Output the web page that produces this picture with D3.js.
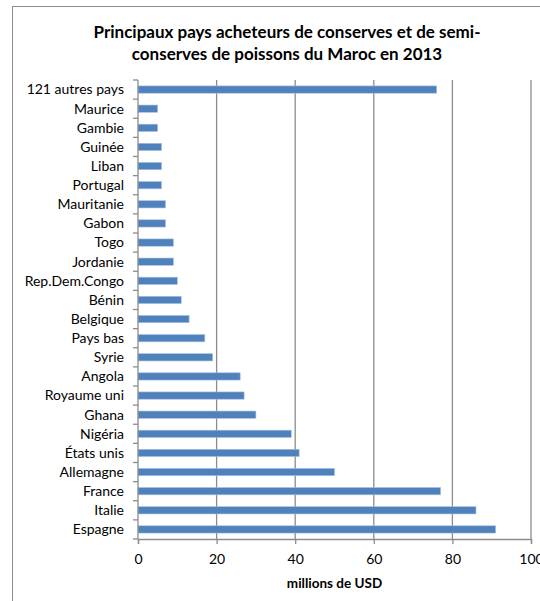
<!DOCTYPE html>
<html>
<head>
<meta charset="utf-8">
<script src="https://cdn.jsdelivr.net/npm/d3@7"></script>
<style>
  body { margin: 0; background: #fff; }
  text { font-family: Lato, "Open Sans", sans-serif; fill: #000; }
</style>
</head>
<body>
<div id="chart"></div>
<script>
// data, top to bottom as drawn
const pays = ["121 autres pays", "Maurice", "Gambie", "Guinée", "Liban", "Portugal",
    "Mauritanie", "Gabon", "Togo", "Jordanie", "Rep.Dem.Congo", "Bénin", "Belgique",
    "Pays bas", "Syrie", "Angola", "Royaume uni", "Ghana", "Nigéria", "États unis",
    "Allemagne", "France", "Italie", "Espagne"];
const valeurs = [76, 5, 5, 6, 6, 6, 7, 7, 9, 9, 10, 11, 13, 17, 19, 26, 27, 30, 39, 41, 50, 77, 86, 91];
const xTicks = [0, 20, 40, 60, 80, 100];
const titre = ["Principaux pays acheteurs de conserves et de semi-",
    "conserves de poissons du Maroc en 2013"];
const axeTitre = "millions de USD";

const width = 540, height = 601;
const margin = {top: 80, left: 138, right: 9, bottom: 62};

const svg = d3.select("#chart").append("svg")
    .attr("width", width)
    .attr("height", height);

// outer chart frame
svg.append("rect")
    .attr("x", 12.5).attr("y", 6.5)
    .attr("width", width).attr("height", height)
    .attr("fill", "none")
    .attr("stroke", "#8c8c8c")
    .attr("stroke-width", 1);

const x = d3.scaleLinear()
    .domain([0, 100])
    .range([margin.left, width - margin.right]);

const y = d3.scaleBand()
    .domain(pays)
    .range([margin.top, height - margin.bottom])
    .paddingInner(0.62)
    .paddingOuter(0.31);

// gridlines
svg.append("g")
    .selectAll("line")
    .data(xTicks.slice(1))
    .join("line")
    .attr("x1", d => x(d)).attr("x2", d => x(d))
    .attr("y1", margin.top).attr("y2", height - margin.bottom)
    .attr("stroke", "#8c8c8c")
    .attr("stroke-width", 1.3);

// bars
svg.append("g")
    .selectAll("rect")
    .data(valeurs)
    .join("rect")
    .attr("x", x(0))
    .attr("y", (d, i) => y(pays[i]))
    .attr("width", d => x(d) - x(0))
    .attr("height", y.bandwidth())
    .attr("fill", "#4f81bd")
    .attr("stroke", "#a7c0de")
    .attr("stroke-width", 0.6);

// x axis
const xAxis = svg.append("g")
    .attr("transform", `translate(0, ${height - margin.bottom})`)
    .call(d3.axisBottom(x).tickValues(xTicks).tickSize(5).tickPadding(10));
xAxis.select(".domain").attr("stroke", "#8c8c8c").attr("stroke-width", 1.3);
xAxis.selectAll(".tick line").attr("stroke", "#8c8c8c").attr("stroke-width", 1.3);
xAxis.selectAll("text")
    .attr("font-size", 14)
    .style("font-family", "Lato, 'Open Sans', sans-serif")
    .attr("fill", "#000");

// y axis: ticks sit between categories
const yAxisG = svg.append("g");
yAxisG.append("line")
    .attr("x1", x(0)).attr("x2", x(0))
    .attr("y1", margin.top).attr("y2", height - margin.bottom)
    .attr("stroke", "#8c8c8c").attr("stroke-width", 1.3);
const step = y.step();
yAxisG.selectAll(".yt")
    .data(d3.range(pays.length + 1))
    .join("line")
    .attr("class", "yt")
    .attr("x1", x(0) - 5).attr("x2", x(0))
    .attr("y1", i => margin.top + i * step)
    .attr("y2", i => margin.top + i * step)
    .attr("stroke", "#8c8c8c").attr("stroke-width", 1.3);
yAxisG.selectAll(".lab")
    .data(pays)
    .join("text")
    .attr("class", "lab")
    .attr("x", x(0) - 14)
    .attr("y", d => y(d) + y.bandwidth() / 2)
    .attr("dy", "0.35em")
    .attr("text-anchor", "end")
    .attr("font-size", 14)
    .text(d => d);

// title
svg.append("text")
    .attr("x", 287)
    .attr("y", 38)
    .attr("text-anchor", "middle")
    .attr("font-size", 17)
    .attr("font-weight", "bold")
    .selectAll("tspan")
    .data(titre)
    .join("tspan")
    .attr("x", 287)
    .attr("dy", (d, i) => i === 0 ? 0 : 22)
    .text(d => d);

// axis title
svg.append("text")
    .attr("x", (x(0) + x(100)) / 2)
    .attr("y", 588)
    .attr("text-anchor", "middle")
    .attr("font-size", 13.5)
    .attr("font-weight", "bold")
    .text(axeTitre);
</script>
</body>
</html>
